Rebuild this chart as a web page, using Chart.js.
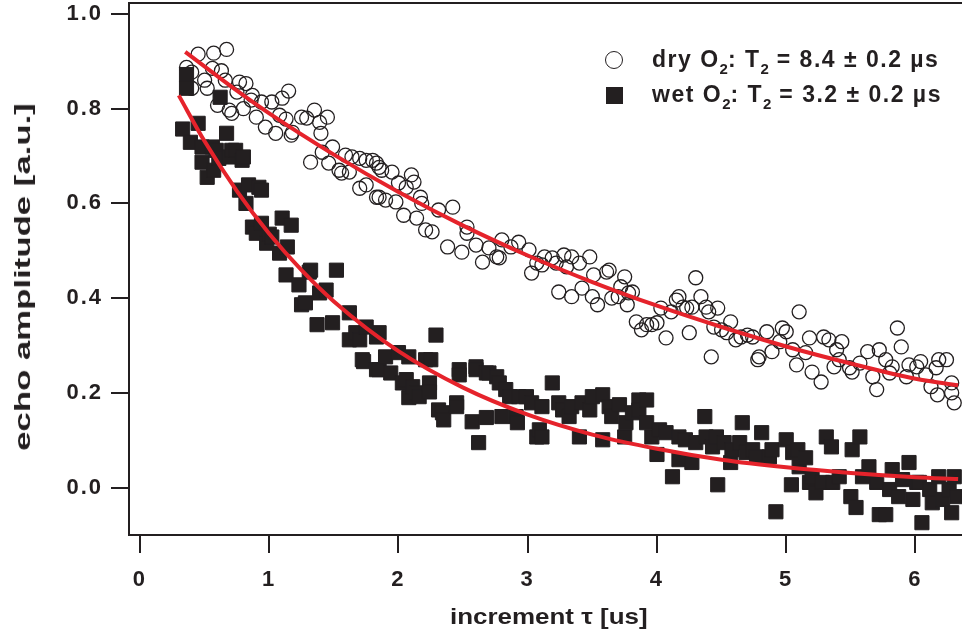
<!DOCTYPE html>
<html>
<head>
<meta charset="utf-8">
<script src="https://cdn.jsdelivr.net/npm/chart.js@4/dist/chart.umd.min.js"></script>
<style>
html,body{margin:0;padding:0;background:#fff;}
#wrap{position:relative;width:962px;height:632px;overflow:hidden;}
canvas{display:block;}
.lg{position:absolute;left:652px;font:bold 23px "Liberation Sans",Arial,sans-serif;color:#231f20;letter-spacing:1.5px;line-height:28px;white-space:nowrap;}
.lg .s{font-size:15px;position:relative;top:7px;letter-spacing:0;}
.mk{position:absolute;box-sizing:border-box;}
.ttl{position:absolute;font:bold 22px "Liberation Sans",Arial,sans-serif;color:#231f20;white-space:nowrap;line-height:26px;}
</style>
</head>
<body>
<div id="wrap">
<canvas id="c" width="962" height="632"></canvas>
<div class="mk" style="left:605px;top:51px;width:18px;height:18px;border:1.5px solid #231f20;border-radius:50%;"></div>
<div class="mk" style="left:606px;top:87px;width:17px;height:17px;background:#231f20;"></div>
<div class="lg" style="top:45px;">dry O<span class="s">2</span>: T<span class="s">2</span> = 8.4 ± 0.2 µs</div>
<div class="lg" style="top:80px;">wet O<span class="s">2</span>: T<span class="s">2</span> = 3.2 ± 0.2 µs</div>
<div id="xt" class="ttl">increment τ [us]</div>
<div id="yt" class="ttl">echo amplitude [a.u.]</div>
</div>
<script>
// ---- data ----
const xTicks = [0, 1, 2, 3, 4, 5, 6];
const xTickLabels = ['0', '1', '2', '3', '4', '5', '6'];
const yTicks = [0, 0.2, 0.4, 0.6, 0.8, 1.0];
const yTickLabels = ['0.0', '0.2', '0.4', '0.6', '0.8', '1.0'];

const dryX = [
 0.36,0.40,0.40,0.45,0.50,0.52,0.56,0.57,0.60,0.63,
 0.66,0.67,0.69,0.71,0.75,0.77,0.80,0.82,0.86,0.87,
 0.90,0.94,0.97,1.02,1.05,1.08,1.10,1.13,1.15,1.17,
 1.18,1.25,1.29,1.32,1.35,1.39,1.40,1.41,1.45,1.46,
 1.49,1.54,1.56,1.59,1.62,1.64,1.70,1.70,1.75,1.75,
 1.80,1.83,1.83,1.85,1.85,1.87,1.90,1.95,1.98,2.00,
 2.04,2.06,2.10,2.12,2.14,2.17,2.18,2.21,2.26,2.31,
 2.38,2.42,2.49,2.53,2.53,2.60,2.65,2.70,2.76,2.78,
 2.80,2.87,2.93,3.01,3.03,3.07,3.11,3.13,3.19,3.22,
 3.24,3.28,3.30,3.34,3.34,3.40,3.42,3.48,3.50,3.51,
 3.54,3.61,3.63,3.65,3.70,3.72,3.75,3.77,3.78,3.81,
 3.84,3.88,3.92,3.96,4.00,4.03,4.07,4.11,4.15,4.17,
 4.20,4.23,4.25,4.27,4.30,4.34,4.38,4.40,4.42,4.44,
 4.47,4.50,4.54,4.57,4.61,4.65,4.70,4.74,4.78,4.79,
 4.85,4.89,4.95,4.97,5.00,5.05,5.08,5.10,5.15,5.18,
 5.20,5.27,5.29,5.33,5.37,5.39,5.41,5.43,5.49,5.51,
 5.57,5.63,5.67,5.70,5.72,5.77,5.80,5.82,5.86,5.89,
 5.93,5.95,6.01,6.04,6.08,6.12,6.16,6.17,6.18,6.24,
 6.28,6.28,6.30
];
const dryY = [
 .887,.877,.843,.915,.860,.843,.885,.917,.807,.880,
 .860,.925,.797,.790,.835,.856,.800,.853,.818,.828,
 .782,.814,.761,.814,.748,.786,.822,.778,.837,.744,
 .750,.782,.780,.687,.797,.771,.748,.708,.782,.685,
 .719,.670,.664,.702,.666,.698,.695,.632,.691,.639,
 .691,.685,.613,.613,.676,.670,.607,.666,.603,.643,
 .575,.634,.660,.645,.569,.613,.600,.544,.540,.586,
 .508,.592,.497,.550,.537,.512,.476,.506,.487,.485,
 .523,.508,.518,.502,.453,.474,.470,.487,.485,.474,
 .413,.491,.466,.487,.403,.474,.421,.487,.403,.449,
 .386,.455,.459,.400,.403,.424,.445,.386,.411,.413,
 .350,.333,.344,.344,.348,.379,.316,.371,.396,.403,
 .381,.379,.327,.381,.443,.403,.381,.371,.276,.339,
 .379,.333,.327,.350,.312,.318,.322,.318,.270,.276,
 .329,.287,.308,.337,.329,.291,.259,.371,.285,.316,
 .244,.223,.318,.312,.255,.291,.270,.308,.253,.244,
 .263,.287,.234,.207,.291,.270,.242,.255,.337,.297,
 .234,.259,.255,.266,.238,.213,.253,.196,.270,.270,
 .221,.200,.179
];

const wetX = [
 0.33,0.36,0.36,0.39,0.45,0.48,0.48,0.52,0.56,0.57,
 0.59,0.61,0.62,0.67,0.69,0.71,0.74,0.77,0.79,0.80,
 0.82,0.84,0.87,0.90,0.92,0.94,0.94,0.98,1.00,1.02,
 1.08,1.10,1.13,1.14,1.17,1.23,1.25,1.28,1.31,1.32,
 1.37,1.39,1.44,1.49,1.52,1.62,1.62,1.67,1.70,1.72,
 1.73,1.75,1.83,1.83,1.85,1.85,1.90,1.94,2.00,2.03,
 2.06,2.08,2.08,2.11,2.14,2.16,2.21,2.24,2.24,2.25,
 2.29,2.31,2.34,2.35,2.45,2.45,2.47,2.47,2.57,2.60,
 2.60,2.62,2.68,2.68,2.70,2.76,2.78,2.80,2.83,2.86,
 2.91,2.92,2.93,2.99,3.03,3.07,3.09,3.11,3.11,3.19,
 3.24,3.27,3.32,3.34,3.40,3.42,3.48,3.50,3.58,3.58,
 3.63,3.65,3.71,3.75,3.76,3.81,3.86,3.86,3.92,3.92,
 3.96,4.00,4.02,4.07,4.12,4.17,4.17,4.22,4.27,4.30,
 4.37,4.38,4.43,4.46,4.47,4.52,4.57,4.58,4.64,4.66,
 4.69,4.74,4.77,4.81,4.87,4.89,4.92,5.00,5.04,5.05,
 5.09,5.10,5.15,5.18,5.20,5.23,5.28,5.31,5.35,5.36,
 5.41,5.50,5.51,5.54,5.57,5.59,5.64,5.70,5.72,5.77,
 5.80,5.82,5.87,5.90,5.95,5.98,6.01,6.03,6.05,6.11,
 6.13,6.18,6.21,6.26,6.28,6.30,6.32
];
const wetY = [
 .757,.872,.843,.729,.769,.719,.687,.655,.719,.670,
 .712,.695,.824,.748,.698,.712,.712,.628,.691,.698,
 .600,.639,.550,.537,.634,.628,.558,.516,.535,.529,
 .495,.569,.449,.508,.554,.428,.386,.390,.455,.459,
 .344,.411,.417,.348,.459,.369,.312,.327,.312,.270,
 .266,.339,.318,.249,.327,.249,.276,.242,.285,.221,
 .228,.276,.190,.213,.200,.192,.270,.221,.202,.270,
 .322,.164,.158,.143,.179,.171,.249,.238,.139,.255,
 .249,.095,.242,.148,.242,.234,.221,.150,.207,.192,
 .150,.137,.192,.192,.179,.107,.122,.171,.107,.221,
 .179,.164,.150,.171,.107,.179,.164,.192,.196,.101,
 .171,.150,.175,.107,.137,.158,.185,.164,.185,.137,
 .107,.070,.122,.116,.023,.107,.059,.101,.053,.095,
 .150,.107,.086,.107,.006,.095,.053,.080,.095,.137,
 .074,.080,.065,.116,.065,.080,-.051,.101,.006,.074,
 .080,.044,.063,.011,.023,-.011,.011,.107,.086,.011,
 .023,-.019,.080,-.042,.107,.023,.044,.011,-.057,-.057,
 -.004,.038,-.019,.017,.053,-.025,.011,.011,-.074,-.004,
 -.032,.023,-.025,-.004,-.053,.023,-.019
];

const dryFitX = [0.35,0.75,1.0,1.5,2.0,2.5,3.0,3.5,4.0,4.5,5.0,5.5,6.0,6.33];
const dryFitY = [0.920,0.838,0.790,0.703,0.624,0.553,0.490,0.434,0.384,0.339,0.298,0.262,0.230,0.216];
const wetFitX = [0.30,0.5,0.75,1.0,1.25,1.5,2.0,2.5,3.0,3.5,4.0,4.5,5.0,5.5,6.0,6.33];
const wetFitY = [0.828,0.731,0.626,0.536,0.459,0.393,0.288,0.211,0.154,0.112,0.082,0.059,0.043,0.031,0.022,0.018];

// ---- chart ----
const INK = '#231f20';
const RED = '#e5232b';
const FONT = '"Liberation Sans", Arial, Helvetica, sans-serif';
const pts = (xs, ys) => xs.map((x, i) => ({x: x, y: ys[i]}));

const frame = {
  id: 'frame',
  beforeDraw(chart) { chart.ctx.letterSpacing = '2px'; },
  afterDraw(chart) {
    const {ctx, chartArea: a} = chart;
    ctx.letterSpacing = '0px';
    ctx.save();
    ctx.strokeStyle = INK;
    ctx.lineWidth = 2;
    ctx.beginPath();
    ctx.moveTo(a.left - 1, a.top);
    ctx.lineTo(a.right, a.top);
    ctx.stroke();
    ctx.restore();
    // place HTML axis titles relative to the chart area
    const xt = document.getElementById('xt');
    const yt = document.getElementById('yt');
    const cx = 549, cyx = 617;
    xt.style.left = (cx - xt.offsetWidth / 2) + 'px';
    xt.style.top = (cyx - xt.offsetHeight / 2) + 'px';
    xt.style.transform = 'scaleX(1.18)';
    const cy = (a.top + a.bottom) / 2 + 8;
    yt.style.left = (23 - yt.offsetWidth / 2) + 'px';
    yt.style.top = (cy - yt.offsetHeight / 2) + 'px';
    yt.style.transform = 'rotate(-90deg) scaleX(1.58)';
  }
};

new Chart(document.getElementById('c'), {
  type: 'scatter',
  data: {
    datasets: [
      {label: 'dry fit', type: 'line', data: pts(dryFitX, dryFitY), borderColor: RED, borderWidth: 4,
       pointRadius: 0, fill: false, cubicInterpolationMode: 'monotone', order: 0},
      {label: 'wet fit', type: 'line', data: pts(wetFitX, wetFitY), borderColor: RED, borderWidth: 4,
       pointRadius: 0, fill: false, cubicInterpolationMode: 'monotone', order: 0},
      {label: 'dry O2', data: pts(dryX, dryY), pointStyle: 'circle', pointRadius: 7,
       pointBorderWidth: 1.3, pointBorderColor: INK, pointBackgroundColor: 'rgba(0,0,0,0)', order: 2},
      {label: 'wet O2', data: pts(wetX, wetY), pointStyle: 'rect', pointRadius: 10,
       pointBorderWidth: 1, pointBorderColor: INK, pointBackgroundColor: INK, order: 1}
    ]
  },
  options: {
    responsive: false,
    animation: false,
    events: [],
    layout: {autoPadding: false, padding: {top: 3, right: 0, left: 0, bottom: 0}},
    plugins: {legend: {display: false}, tooltip: {enabled: false}},
    scales: {
      x: {
        type: 'linear', position: 'bottom', min: -0.085, max: 6.36,
        afterBuildTicks: s => { s.ticks = xTicks.map(v => ({value: v})); },
        afterFit: s => { s.height = 97; s.paddingLeft = 0; s.paddingRight = 0; },
        ticks: {callback: (v, i) => xTickLabels[i], color: INK, padding: 14, maxRotation: 0,
                font: {family: FONT, size: 22, weight: 'bold'}},
        grid: {drawOnChartArea: false, drawTicks: true, tickLength: 18, color: INK, lineWidth: 2},
        border: {display: true, color: INK, width: 2}
      },
      y: {
        type: 'linear', position: 'left', min: -0.1, max: 1.023,
        afterBuildTicks: s => { s.ticks = yTicks.map(v => ({value: v})); },
        afterFit: s => { s.width = 129; s.paddingTop = 0; s.paddingBottom = 0; },
        ticks: {callback: (v, i) => yTickLabels[i], color: INK, padding: 8,
                font: {family: FONT, size: 22, weight: 'bold'}},
        grid: {drawOnChartArea: false, drawTicks: true, tickLength: 18, color: INK, lineWidth: 2},
        border: {display: true, color: INK, width: 2}
      }
    }
  },
  plugins: [frame]
});
</script>
</body>
</html>
